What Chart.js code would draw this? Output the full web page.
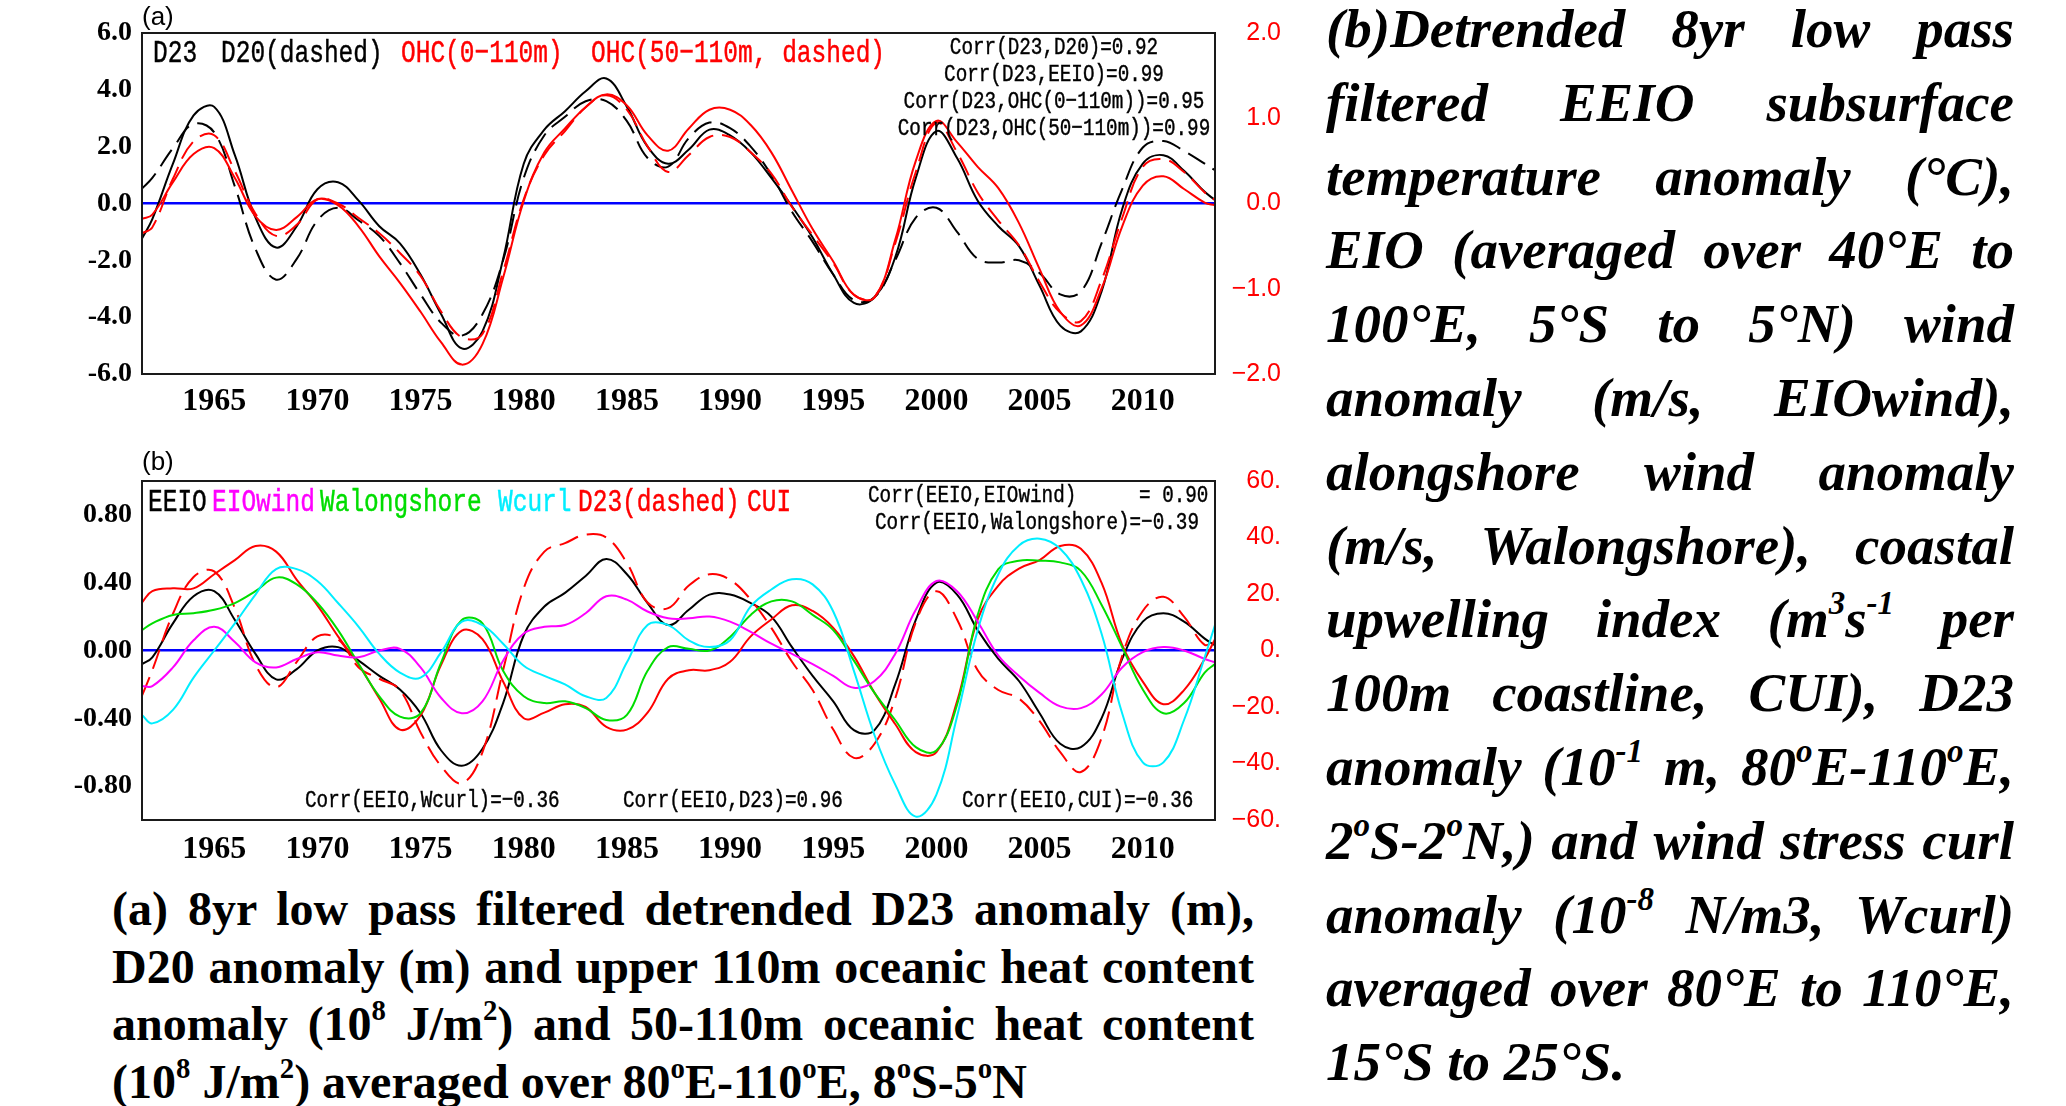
<!DOCTYPE html>
<html>
<head>
<meta charset="utf-8">
<title>EEIO D23 low pass filtered anomalies</title>
<script src="https://cdn.jsdelivr.net/npm/chart.js@4.4.1/dist/chart.umd.min.js"></script>
<style>
  html, body { margin: 0; padding: 0; background: #fff; }
  body { position: relative; width: 2066px; height: 1106px; overflow: hidden; }
  .panel { position: absolute; left: 0; width: 1300px; }
  #panelA { top: 0; height: 425px; }
  #panelB { top: 440px; height: 440px; }
  .lbl { position: absolute; white-space: pre; line-height: 1; transform-origin: left center; font-family: "Liberation Mono", monospace; -webkit-text-stroke: 0.35px currentColor; }
  .leg { font-size: 24.5px; transform: translateY(-50%) scaleY(1.3); }
  .corr { font-size: 19.3px; color: #000; transform: translateY(-50%) scaleY(1.25); }
  .mid { transform-origin: center center; transform: translate(-50%, -50%) scaleY(1.25); }
  .tag { font-family: "Liberation Sans", sans-serif; font-size: 26px; transform: translateY(-50%); -webkit-text-stroke: 0; }
  .capB { position: absolute; left: 1326px; top: -8px; width: 688px; font-family: "Liberation Serif", serif; font-weight: bold; font-style: italic; font-size: 55px; line-height: 73.8px; }
  .capA { position: absolute; left: 112px; top: 880px; width: 1142px; font-family: "Liberation Serif", serif; font-weight: bold; font-size: 48px; line-height: 57.6px; }
  .capA div, .capB div { text-align: justify; text-align-last: justify; white-space: nowrap; }
  .capA div.last, .capB div.last { text-align-last: left; }
  sup { font-size: 0.6em; line-height: 0; vertical-align: 0.7em; }
</style>
</head>
<body>

<div class="panel" id="panelA"><canvas id="chartA"></canvas></div>
<div class="panel" id="panelB"><canvas id="chartB"></canvas></div>

<!-- panel (a) texts -->
<div class="lbl tag" style="left:142px; top:16px;">(a)</div>
<div class="lbl leg" style="left:153px; top:55px;">D23</div>
<div class="lbl leg" style="left:221px; top:55px;">D20(dashed)</div>
<div class="lbl leg" style="left:401px; top:55px; color:#ff0000;">OHC(0−110m)</div>
<div class="lbl leg" style="left:591px; top:55px; color:#ff0000;">OHC(50−110m, dashed)</div>
<div class="lbl corr mid" style="left:1054px; top:49px;">Corr(D23,D20)=0.92</div>
<div class="lbl corr mid" style="left:1054px; top:76px;">Corr(D23,EEIO)=0.99</div>
<div class="lbl corr mid" style="left:1054px; top:103px;">Corr(D23,OHC(0−110m))=0.95</div>
<div class="lbl corr mid" style="left:1054px; top:130px;">Corr(D23,OHC(50−110m))=0.99</div>

<!-- panel (b) texts -->
<div class="lbl tag" style="left:142px; top:461px;">(b)</div>
<div class="lbl leg" style="left:148px; top:504px;">EEIO</div>
<div class="lbl leg" style="left:212px; top:504px; color:#ff00ff;">EIOwind</div>
<div class="lbl leg" style="left:320px; top:504px; color:#00dd00;">Walongshore</div>
<div class="lbl leg" style="left:498px; top:504px; color:#00eeff;">Wcurl</div>
<div class="lbl leg" style="left:578px; top:504px; color:#ff0000;">D23(dashed)</div>
<div class="lbl leg" style="left:747px; top:504px; color:#ff0000;">CUI</div>
<div class="lbl corr" style="left:868px; top:497px;">Corr(EEIO,EIOwind)</div>
<div class="lbl corr" style="left:1139px; top:497px;">= 0.90</div>
<div class="lbl corr" style="left:875px; top:524px;">Corr(EEIO,Walongshore)=−0.39</div>
<div class="lbl corr" style="left:305px; top:802px;">Corr(EEIO,Wcurl)=−0.36</div>
<div class="lbl corr" style="left:623px; top:802px;">Corr(EEIO,D23)=0.96</div>
<div class="lbl corr" style="left:962px; top:802px;">Corr(EEIO,CUI)=−0.36</div>

<!-- caption (a) -->
<div class="capA">
  <div>(a) 8yr low pass filtered detrended D23 anomaly (m),</div>
  <div>D20 anomaly (m) and upper 110m oceanic heat content</div>
  <div>anomaly (10<sup>8</sup> J/m<sup>2</sup>) and 50-110m oceanic heat content</div>
  <div class="last">(10<sup>8</sup> J/m<sup>2</sup>) averaged over 80<sup>o</sup>E-110<sup>o</sup>E, 8<sup>o</sup>S-5<sup>o</sup>N</div>
</div>

<!-- caption (b) -->
<div class="capB">
  <div>(b)Detrended 8yr low pass</div>
  <div>filtered EEIO subsurface</div>
  <div>temperature anomaly (°C),</div>
  <div>EIO (averaged over 40°E to</div>
  <div>100°E, 5°S to 5°N) wind</div>
  <div>anomaly (m/s, EIOwind),</div>
  <div>alongshore wind anomaly</div>
  <div>(m/s, Walongshore), coastal</div>
  <div>upwelling index (m<sup>3</sup>s<sup>-1</sup> per</div>
  <div>100m coastline, CUI), D23</div>
  <div>anomaly (10<sup>-1</sup> m, 80<sup>o</sup>E-110<sup>o</sup>E,</div>
  <div>2<sup>o</sup>S-2<sup>o</sup>N,) and wind stress curl</div>
  <div>anomaly (10<sup>-8</sup> N/m3, Wcurl)</div>
  <div>averaged over 80°E to 110°E,</div>
  <div class="last">15°S to 25°S.</div>
</div>

<script>
// Years of the 8yr low pass series (x axis)
const years = [1961.5, 1962, 1963, 1964, 1965, 1966, 1967, 1968, 1969, 1970,
  1971, 1972, 1973, 1974, 1975, 1976, 1977, 1978, 1979, 1980,
  1981, 1982, 1983, 1984, 1985, 1986, 1987, 1988, 1989, 1990,
  1991, 1992, 1993, 1994, 1995, 1996, 1997, 1998, 1999, 2000,
  2001, 2002, 2003, 2004, 2005, 2006, 2007, 2008, 2009, 2010,
  2011, 2012, 2013, 2013.5];

// Tick labels
const yearTicks = [1965, 1970, 1975, 1980, 1985, 1990, 1995, 2000, 2005, 2010];
const ticksA = [-6, -4, -2, 0, 2, 4, 6];
const ticksARight = [-2, -1, 0, 1, 2];
const ticksB = [-0.8, -0.4, 0, 0.4, 0.8];
const ticksBRight = [-60, -40, -20, 0, 20, 40, 60];

// Panel (a): D23, D20 (m) on left axis, OHC (10^8 J/m2) on right axis
const d23 = [-1.23, -0.55, 1.4, 3.1, 3.4, 1.7, -0.5, -1.55, -0.8, 0.5,
  0.75, 0.1, -0.8, -1.4, -2.5, -3.9, -5.1, -4.5, -1.95, 1.4,
  2.6, 3.25, 3.95, 4.4, 3.4, 2.0, 1.4, 1.9, 2.6, 2.4,
  1.8, 0.9, -0.1, -1.2, -2.5, -3.5, -3.3, -1.9, 0.9, 2.55,
  1.6, 0.1, -0.8, -1.5, -2.9, -4.3, -4.5, -3.1, -0.2, 1.4,
  1.7, 1.15, 0.41, 0.12];
const d20 = [0.53, 0.9, 1.95, 2.8, 2.5, 0.6, -1.6, -2.68, -1.95, -0.6,
  -0.15, -0.6, -1.15, -2.1, -3.2, -4.2, -4.65, -3.9, -2.0, 0.9,
  2.4, 3.05, 3.6, 3.6, 2.9, 1.6, 1.3, 2.3, 2.85, 2.65,
  2.0, 1.0, -0.29, -1.35, -2.5, -3.4, -3.3, -2.0, -0.5, -0.15,
  -1.0, -1.95, -2.08, -2.0, -2.45, -3.2, -3.1, -1.4, 0.5, 1.97,
  2.2, 1.85, 1.4, 1.17];
const ohc0to110 = [-0.18, -0.13, 0.25, 0.58, 0.65, 0.30, -0.15, -0.31, -0.16, 0.05,
  -0.02, -0.27, -0.62, -0.93, -1.27, -1.63, -1.89, -1.65, -0.87, 0.03,
  0.60, 0.88, 1.13, 1.28, 1.15, 0.80, 0.62, 0.88, 1.10, 1.10,
  0.92, 0.60, 0.15, -0.30, -0.68, -1.07, -1.10, -0.43, 0.50, 0.97,
  0.72, 0.43, 0.18, -0.23, -0.77, -1.27, -1.43, -1.00, -0.27, 0.21,
  0.32, 0.17, 0.01, -0.02];
const ohc50to110 = [-0.35, -0.28, 0.29, 0.73, 0.80, 0.38, -0.12, -0.38, -0.25, 0.05,
  0.00, -0.17, -0.35, -0.58, -0.85, -1.27, -1.57, -1.53, -0.80, 0.05,
  0.57, 0.85, 1.13, 1.27, 1.10, 0.67, 0.37, 0.57, 0.78, 0.78,
  0.60, 0.35, -0.04, -0.37, -0.70, -1.07, -1.10, -0.47, 0.37, 0.95,
  0.60, 0.13, -0.20, -0.49, -0.92, -1.28, -1.38, -0.90, -0.17, 0.43,
  0.52, 0.37, 0.13, 0.04];

// Panel (b): EEIO, winds, curl on left axis; D23 (10^-1 m) and CUI on right axis
const eeio = [-0.08, -0.04, 0.16, 0.32, 0.35, 0.18, -0.02, -0.17, -0.11, 0.0,
  0.02, -0.06, -0.15, -0.23, -0.37, -0.59, -0.68, -0.58, -0.31, 0.09,
  0.26, 0.34, 0.44, 0.54, 0.45, 0.28, 0.15, 0.24, 0.33, 0.33,
  0.28, 0.2, 0.02, -0.15, -0.3, -0.47, -0.47, -0.2, 0.18, 0.4,
  0.33, 0.12, -0.05, -0.18, -0.37, -0.55, -0.57, -0.4, -0.05, 0.17,
  0.22, 0.17, 0.07, 0.03];
const eioWind = [-0.21, -0.21, -0.1, 0.06, 0.14, 0.05, -0.07, -0.1, -0.05, -0.01,
  -0.03, -0.04, 0.0, 0.01, -0.1, -0.28, -0.37, -0.3, -0.06, 0.1,
  0.14, 0.15, 0.22, 0.32, 0.3, 0.23, 0.19, 0.19, 0.2, 0.17,
  0.11, 0.04, -0.02, -0.08, -0.15, -0.22, -0.18, -0.02, 0.24, 0.41,
  0.35, 0.17, -0.03, -0.15, -0.25, -0.33, -0.34, -0.26, -0.1, -0.01,
  0.02, 0.0, -0.05, -0.07];
const walongshore = [0.12, 0.16, 0.21, 0.22, 0.24, 0.28, 0.35, 0.43, 0.39, 0.28,
  0.12, -0.08, -0.27, -0.39, -0.37, -0.07, 0.18, 0.16, -0.12, -0.27,
  -0.31, -0.3, -0.34, -0.41, -0.38, -0.12, 0.02, 0.01, 0.0, 0.08,
  0.21, 0.29, 0.29, 0.21, 0.12, -0.06, -0.25, -0.41, -0.57, -0.59,
  -0.32, 0.21, 0.48, 0.53, 0.53, 0.52, 0.47, 0.27, 0.02, -0.23,
  -0.37, -0.31, -0.13, -0.08];
const wcurl = [-0.38, -0.43, -0.35, -0.16, 0.0, 0.16, 0.33, 0.48, 0.48, 0.41,
  0.28, 0.14, -0.02, -0.13, -0.16, -0.01, 0.17, 0.15, 0.04, -0.09,
  -0.15, -0.2, -0.27, -0.28, -0.07, 0.15, 0.15, 0.06, 0.02, 0.06,
  0.26, 0.36, 0.42, 0.39, 0.23, -0.12, -0.5, -0.79, -0.98, -0.85,
  -0.39, 0.12, 0.45, 0.62, 0.66, 0.6, 0.42, 0.1, -0.37, -0.66,
  -0.66, -0.41, -0.04, 0.15];
const d23dm = [-16, -7, 13, 26, 28, 15, -5, -13, -4, 5,
  4, -6, -10, -14, -29, -41, -47, -36, -7, 22,
  35, 38, 41, 40, 31, 17, 15, 23, 27, 25,
  18, 8, -4, -14, -28, -38, -33, -17, 10, 21,
  11, -7, -14, -17, -25, -36, -43, -31, -2, 14,
  19, 12, 2, 4];
const cui = [17, 21, 22, 22, 27, 32, 37, 35, 25, 16,
  5, -5, -17, -28, -23, -5, 7, 4, -11, -24,
  -22, -19, -20, -27, -28, -22, -10, -7, -7, -4,
  5, 11, 16, 14, 8, -2, -15, -26, -36, -36,
  -18, 11, 23, 29, 32, 37, 36, 24, 2, -11,
  -19, -14, -3, 4];

Chart.defaults.font.family = '"Liberation Serif", serif';

function pts(arr) {
  return arr.map((y, i) => ({ x: years[i], y: y }));
}

function line(label, arr, color, axis, dashed) {
  return {
    label: label,
    data: pts(arr),
    yAxisID: axis,
    borderColor: color,
    borderWidth: 2,
    borderDash: dashed ? [20, 9] : [],
    pointRadius: 0,
    tension: 0.4,
    fill: false
  };
}

function setTicks(list) {
  return scale => { scale.ticks = list.map(v => ({ value: v })); };
}

// black box round the plot area
const frame = {
  id: 'frame',
  afterDatasetsDraw(chart) {
    const a = chart.chartArea;
    const c = chart.ctx;
    c.save();
    c.strokeStyle = '#1a1a1a';
    c.lineWidth = 2;
    c.strokeRect(a.left, a.top, a.right - a.left, a.bottom - a.top);
    c.restore();
  }
};

function makeScales(o) {
  return {
    x: {
      type: 'linear',
      min: 1961.5,
      max: 2013.5,
      afterBuildTicks: setTicks(yearTicks),
      afterFit: s => { s.height = o.xHeight; },
      ticks: {
        callback: v => String(v),
        color: '#000',
        font: { size: 32, weight: 'bold' },
        padding: o.xPad,
        maxRotation: 0,
        autoSkip: false
      },
      grid: { display: false, drawTicks: false },
      border: { display: false }
    },
    yL: {
      position: 'left',
      min: o.leftMin,
      max: o.leftMax,
      afterBuildTicks: setTicks(o.leftTicks),
      afterFit: s => { s.width = 142; },
      ticks: {
        callback: v => v.toFixed(o.leftDigits),
        color: '#000',
        font: { size: 28, weight: 'bold' },
        padding: 10
      },
      grid: {
        drawTicks: false,
        color: c => (c.tick && c.tick.value === 0) ? '#0000ff' : 'rgba(0,0,0,0)',
        lineWidth: c => (c.tick && c.tick.value === 0) ? 2.5 : 0
      },
      border: { display: false }
    },
    yR: {
      position: 'right',
      min: o.rightMin,
      max: o.rightMax,
      afterBuildTicks: setTicks(o.rightTicks),
      afterFit: s => { s.width = 66; },
      ticks: {
        callback: o.rightFormat,
        color: '#ff0000',
        font: { family: '"Liberation Sans", sans-serif', size: 25 },
        crossAlign: 'far',
        padding: 8
      },
      grid: { display: false, drawTicks: false },
      border: { display: false }
    }
  };
}

const common = {
  responsive: true,
  maintainAspectRatio: false,
  animation: false,
  plugins: { legend: { display: false }, tooltip: { enabled: false } }
};

new Chart(document.getElementById('chartA'), {
  type: 'line',
  data: {
    datasets: [
      line('OHC(0-110m)', ohc0to110, '#ff0000', 'yR', false),
      line('OHC(50-110m)', ohc50to110, '#ff0000', 'yR', true),
      line('D20', d20, '#000000', 'yL', true),
      line('D23', d23, '#000000', 'yL', false)
    ]
  },
  options: Object.assign({}, common, {
    layout: { padding: { top: 33, left: 0, right: 19, bottom: 0 } },
    scales: makeScales({
      xHeight: 51, xPad: 9,
      leftMin: -6, leftMax: 6, leftTicks: ticksA, leftDigits: 1,
      rightMin: -2, rightMax: 2, rightTicks: ticksARight,
      rightFormat: v => (v < 0 ? '−' : '') + Math.abs(v).toFixed(1)
    })
  }),
  plugins: [frame]
});

new Chart(document.getElementById('chartB'), {
  type: 'line',
  data: {
    datasets: [
      line('Wcurl', wcurl, '#00eeff', 'yL', false),
      line('EIOwind', eioWind, '#ff00ff', 'yL', false),
      line('Walongshore', walongshore, '#00dd00', 'yL', false),
      line('CUI', cui, '#ff0000', 'yR', false),
      line('D23', d23dm, '#ff0000', 'yR', true),
      line('EEIO', eeio, '#000000', 'yL', false)
    ]
  },
  options: Object.assign({}, common, {
    layout: { padding: { top: 41, left: 0, right: 19, bottom: 0 } },
    scales: makeScales({
      xHeight: 60, xPad: 11,
      leftMin: -1, leftMax: 1, leftTicks: ticksB, leftDigits: 2,
      rightMin: -60, rightMax: 60, rightTicks: ticksBRight,
      rightFormat: v => (v < 0 ? '−' : '') + Math.abs(v) + '.'
    })
  }),
  plugins: [frame]
});
</script>
</body>
</html>
